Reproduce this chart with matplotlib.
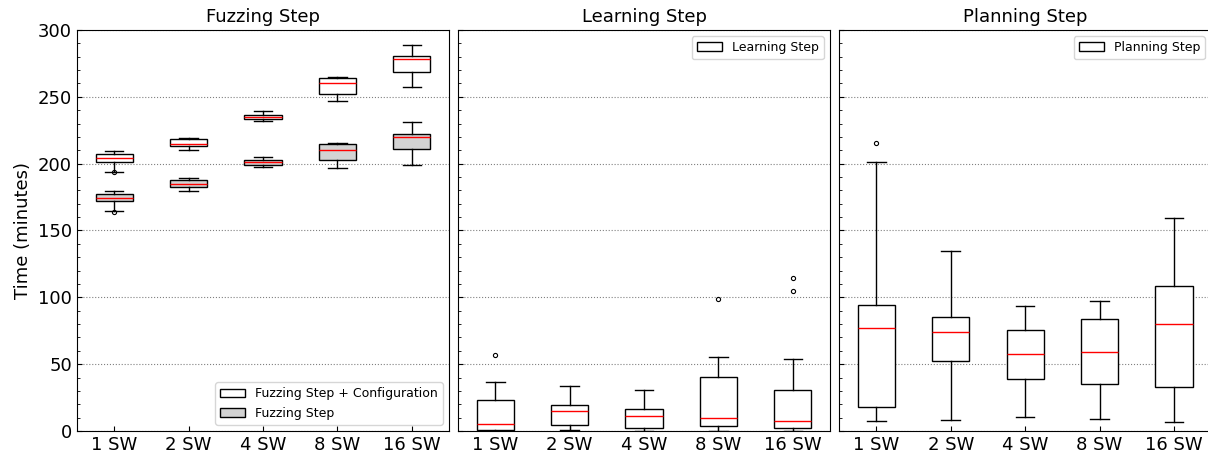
import numpy as np
import matplotlib
matplotlib.use("Agg")
import matplotlib.pyplot as plt
from matplotlib.patches import Patch
from matplotlib.ticker import MultipleLocator

labels = ['1 SW', '2 SW', '4 SW', '8 SW', '16 SW']

# fuzzing step + configuration (white boxes)
cfg_whislo = [194.0, 210.2, 231.7, 246.9, 257.1]
cfg_q1 = [201.5, 213.0, 233.2, 252.4, 268.8]
cfg_med = [204.5, 214.7, 234.9, 260.0, 278.0]
cfg_q3 = [207.0, 218.2, 236.4, 264.3, 280.3]
cfg_whishi = [209.5, 219.4, 239.4, 265.0, 289.0]
cfg_fliers = [[193.5], [], [], [], []]

# fuzzing step only (grey boxes)
fuz_whislo = [164.5, 179.8, 197.5, 197.0, 199.0]
fuz_q1 = [171.8, 182.8, 199.2, 202.5, 211.0]
fuz_med = [174.6, 184.5, 201.0, 210.2, 220.2]
fuz_q3 = [177.5, 187.5, 202.5, 214.5, 222.2]
fuz_whishi = [179.8, 189.3, 205.2, 215.5, 230.9]
fuz_fliers = [[164.0], [], [], [], []]

# learning step
lrn_whislo = [0.0, 0.7, 0.3, 0.3, 0.3]
lrn_q1 = [0.5, 4.7, 2.0, 3.5, 2.2]
lrn_med = [5.2, 15.2, 11.5, 9.5, 7.2]
lrn_q3 = [22.9, 19.5, 16.2, 40.6, 30.7]
lrn_whishi = [36.9, 33.7, 30.9, 55.1, 53.9]
lrn_fliers = [[57.1], [], [], [98.5], [104.5, 114.7]]

# planning step
pln_whislo = [7.7, 8.5, 10.2, 9.0, 7.0]
pln_q1 = [18.0, 52.1, 38.9, 35.2, 33.1]
pln_med = [77.1, 73.8, 57.4, 59.1, 80.0]
pln_q3 = [94.0, 85.5, 75.6, 83.8, 108.2]
pln_whishi = [201.2, 134.4, 93.3, 97.0, 159.3]
pln_fliers = [[215.7], [], [], [], []]


def make_stats(lo, q1, med, q3, hi, fl):
    stats = []
    for i in range(len(labels)):
        stats.append({'whislo': lo[i], 'q1': q1[i], 'med': med[i], 'q3': q3[i],
                      'whishi': hi[i], 'fliers': fl[i]})
    return stats


def draw(ax, stats, face):
    ax.bxp(stats, positions=range(1, len(labels) + 1), widths=0.5, patch_artist=True,
           boxprops=dict(facecolor=face, edgecolor='black', linewidth=1),
           medianprops=dict(color='red', linewidth=1),
           whiskerprops=dict(linewidth=1), capprops=dict(linewidth=1),
           flierprops=dict(marker='o', markersize=3, markerfacecolor='none',
                           markeredgecolor='black', markeredgewidth=0.8))


fig = plt.figure(figsize=(12.08, 4.57), dpi=100)
w = 0.308
gap = 0.00745
left = 0.0637
axes = []
for i in range(3):
    ax = fig.add_axes([left + i * (w + gap), 0.0569, w, 0.8775],
                      sharey=axes[0] if axes else None)
    axes.append(ax)

draw(axes[0], make_stats(cfg_whislo, cfg_q1, cfg_med, cfg_q3, cfg_whishi, cfg_fliers), 'white')
draw(axes[0], make_stats(fuz_whislo, fuz_q1, fuz_med, fuz_q3, fuz_whishi, fuz_fliers), 'lightgray')
draw(axes[1], make_stats(lrn_whislo, lrn_q1, lrn_med, lrn_q3, lrn_whishi, lrn_fliers), 'white')
draw(axes[2], make_stats(pln_whislo, pln_q1, pln_med, pln_q3, pln_whishi, pln_fliers), 'white')

titles = ['Fuzzing Step', 'Learning Step', 'Planning Step']
for i, ax in enumerate(axes):
    ax.set_title(titles[i], fontsize=13)
    ax.set_xticks(range(1, len(labels) + 1))
    ax.set_xticklabels(labels, fontsize=13)
    ax.set_xlim(0.5, 5.5)
    ax.set_ylim(0, 300)
    ax.yaxis.set_major_locator(MultipleLocator(50))
    ax.yaxis.set_minor_locator(MultipleLocator(10))
    ax.tick_params(axis='both', which='both', direction='in', labelsize=13)
    ax.yaxis.grid(True, linestyle=':', color='gray', linewidth=0.8)
    ax.set_axisbelow(True)
    if i > 0:
        ax.tick_params(axis='y', labelleft=False)

axes[0].set_ylabel('Time (minutes)', fontsize=13)

axes[0].legend(handles=[Patch(facecolor='white', edgecolor='black', label='Fuzzing Step + Configuration'),
                        Patch(facecolor='lightgray', edgecolor='black', label='Fuzzing Step')],
               loc='lower right', fontsize=9)
axes[1].legend(handles=[Patch(facecolor='white', edgecolor='black', label='Learning Step')],
               loc='upper right', fontsize=9)
axes[2].legend(handles=[Patch(facecolor='white', edgecolor='black', label='Planning Step')],
               loc='upper right', fontsize=9)

fig.savefig('out.png', dpi=100)
